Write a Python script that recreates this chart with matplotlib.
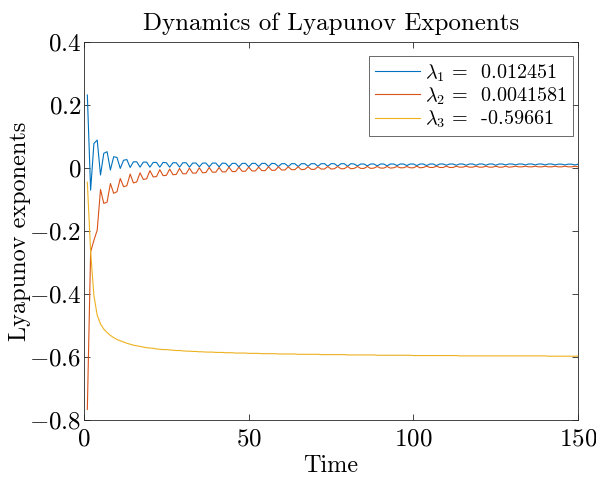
import matplotlib
matplotlib.use("Agg")
import matplotlib.pyplot as plt
from matplotlib.ticker import FuncFormatter

# -------------------------------------------------------------------
# Data (one sample per time unit)
# -------------------------------------------------------------------
time = list(range(1, 151))

lam1 = [
    0.232, -0.070, 0.078, 0.089, -0.022, 0.047, 0.052, -0.006, 0.036,
    0.034, -0.001, 0.025, 0.027, 0.002, 0.020, 0.020, 0.003, 0.019,
    0.019, 0.003, 0.018, 0.018, 0.003, 0.018, 0.017, 0.003, 0.017,
    0.017, 0.003, 0.017, 0.017, 0.003, 0.016, 0.016, 0.004, 0.016,
    0.016, 0.004, 0.016, 0.016, 0.004, 0.016, 0.015, 0.004, 0.015,
    0.015, 0.004, 0.015, 0.015, 0.004, 0.015, 0.015, 0.005, 0.015,
    0.015, 0.005, 0.015, 0.014, 0.005, 0.014, 0.014, 0.005, 0.014,
    0.014, 0.005, 0.014, 0.014, 0.006, 0.014, 0.014, 0.006, 0.014,
    0.014, 0.006, 0.014, 0.014, 0.006, 0.014, 0.014, 0.006, 0.014,
    0.013, 0.007, 0.013, 0.013, 0.007, 0.013, 0.013, 0.007, 0.013,
    0.013, 0.007, 0.013, 0.013, 0.008, 0.013, 0.013, 0.008, 0.013,
    0.013, 0.008, 0.013, 0.013, 0.008, 0.013, 0.013, 0.008, 0.013,
    0.013, 0.009, 0.013, 0.013, 0.009, 0.013, 0.013, 0.009, 0.013,
    0.013, 0.009, 0.013, 0.013, 0.009, 0.013, 0.013, 0.009, 0.013,
    0.013, 0.010, 0.013, 0.013, 0.010, 0.013, 0.013, 0.010, 0.013,
    0.013, 0.010, 0.013, 0.013, 0.010, 0.013, 0.013, 0.010, 0.0125,
    0.0125, 0.010, 0.0125, 0.0125, 0.010, 0.012451,
]

lam2 = [
    -0.766, -0.266, -0.229, -0.197, -0.068, -0.112, -0.108, -0.049, -0.080,
    -0.075, -0.033, -0.059, -0.056, -0.019, -0.047, -0.044, -0.015, -0.036,
    -0.034, -0.008, -0.028, -0.027, -0.005, -0.024, -0.023, -0.003, -0.021,
    -0.020, -0.001, -0.018, -0.018, 0.000, -0.016, -0.016, 0.001, -0.015,
    -0.014, 0.002, -0.013, -0.013, 0.002, -0.012, -0.012, 0.003, -0.011,
    -0.011, 0.003, -0.010, -0.010, 0.003, -0.009, -0.009, 0.003, -0.008,
    -0.008, 0.004, -0.007, -0.007, 0.004, -0.006, -0.006, 0.004, -0.005,
    -0.005, 0.004, -0.005, -0.004, 0.004, -0.004, -0.004, 0.004, -0.003,
    -0.003, 0.005, -0.003, -0.002, 0.005, -0.002, -0.002, 0.005, -0.002,
    -0.001, 0.005, -0.001, -0.001, 0.005, -0.001, 0.000, 0.005, 0.000,
    0.000, 0.005, 0.000, 0.001, 0.005, 0.001, 0.001, 0.005, 0.001,
    0.001, 0.006, 0.001, 0.002, 0.006, 0.002, 0.002, 0.006, 0.002,
    0.002, 0.006, 0.002, 0.002, 0.006, 0.003, 0.003, 0.006, 0.003,
    0.003, 0.006, 0.003, 0.003, 0.006, 0.003, 0.003, 0.006, 0.003,
    0.003, 0.006, 0.003, 0.004, 0.006, 0.004, 0.004, 0.006, 0.004,
    0.004, 0.006, 0.004, 0.004, 0.006, 0.004, 0.004, 0.006, 0.004,
    0.004, 0.006, 0.004, 0.004, 0.006, 0.0041581,
]

lam3 = [
    -0.045, -0.266, -0.405, -0.467, -0.495, -0.511, -0.522, -0.531, -0.538,
    -0.544, -0.548, -0.552, -0.556, -0.559, -0.562, -0.564, -0.566, -0.568,
    -0.570, -0.571, -0.572, -0.574, -0.575, -0.576, -0.576, -0.577, -0.578,
    -0.579, -0.579, -0.580, -0.581, -0.581, -0.582, -0.582, -0.583, -0.583,
    -0.584, -0.584, -0.584, -0.585, -0.585, -0.585, -0.586, -0.586, -0.586,
    -0.587, -0.587, -0.587, -0.587, -0.588, -0.588, -0.588, -0.588, -0.589,
    -0.589, -0.589, -0.589, -0.589, -0.590, -0.590, -0.590, -0.590, -0.590,
    -0.590, -0.591, -0.591, -0.591, -0.591, -0.591, -0.591, -0.591, -0.592,
    -0.592, -0.592, -0.592, -0.592, -0.592, -0.592, -0.592, -0.593, -0.593,
    -0.593, -0.593, -0.593, -0.593, -0.593, -0.593, -0.593, -0.594, -0.594,
    -0.594, -0.594, -0.594, -0.594, -0.594, -0.594, -0.594, -0.594, -0.594,
    -0.595, -0.595, -0.595, -0.595, -0.595, -0.595, -0.595, -0.595, -0.595,
    -0.595, -0.595, -0.595, -0.595, -0.595, -0.596, -0.596, -0.596, -0.596,
    -0.596, -0.596, -0.596, -0.596, -0.596, -0.596, -0.596, -0.596, -0.596,
    -0.596, -0.596, -0.596, -0.596, -0.596, -0.596, -0.596, -0.596, -0.596,
    -0.596, -0.596, -0.596, -0.596, -0.596, -0.597, -0.597, -0.597, -0.597,
    -0.597, -0.597, -0.597, -0.597, -0.597, -0.59661,
]

labels = [
    r"$\lambda_1$ =  0.012451",
    r"$\lambda_2$ =  0.0041581",
    r"$\lambda_3$ =  -0.59661",
]
colors = ["#0072BD", "#D95319", "#EDB120"]

x_ticks = [0, 50, 100, 150]
y_ticks = [-0.8, -0.6, -0.4, -0.2, 0, 0.2, 0.4]

# -------------------------------------------------------------------
# Style: LaTeX-like look
# -------------------------------------------------------------------
plt.rcParams["font.family"] = "serif"
plt.rcParams["font.serif"] = ["cmr10", "DejaVu Serif"]
plt.rcParams["mathtext.fontset"] = "cm"
plt.rcParams["axes.unicode_minus"] = False

edge = "#262626"

fig = plt.figure(figsize=(5.96, 4.78), dpi=100)
ax = fig.add_axes([0.141, 0.121, 0.829, 0.791])

for y, lab, c in zip([lam1, lam2, lam3], labels, colors):
    ax.plot(time, y, color=c, lw=0.8, label=lab)

ax.set_xlim(0, 150)
ax.set_ylim(-0.8, 0.4)
ax.set_xticks(x_ticks)
ax.set_yticks(y_ticks)
ax.xaxis.set_major_formatter(FuncFormatter(lambda v, p: f"${v:g}$"))
ax.yaxis.set_major_formatter(FuncFormatter(lambda v, p: f"${v:g}$"))
ax.tick_params(direction="in", top=True, right=True, length=4,
               width=0.6, colors=edge, labelsize=18, labelcolor="black")
ax.tick_params(axis="x", pad=6)
ax.tick_params(axis="y", pad=2)
for s in ax.spines.values():
    s.set_color(edge)
    s.set_linewidth(0.6)

ax.set_xlabel("Time", fontsize=17.5, labelpad=3)
ax.set_ylabel("Lyapunov exponents", fontsize=17.5)
ax.yaxis.set_label_coords(-0.107, 0.5)
ax.set_title("Dynamics of Lyapunov Exponents", fontsize=18, pad=9)

leg = ax.legend(loc="upper right", bbox_to_anchor=(0.990, 0.963),
                borderaxespad=0, fontsize=14.5, frameon=True, fancybox=False,
                handlelength=2.2, labelspacing=0.1,
                handletextpad=0.25, borderpad=0.3)
leg.get_frame().set_edgecolor(edge)
leg.get_frame().set_linewidth(0.6)

fig.savefig("out.png", dpi=100)
